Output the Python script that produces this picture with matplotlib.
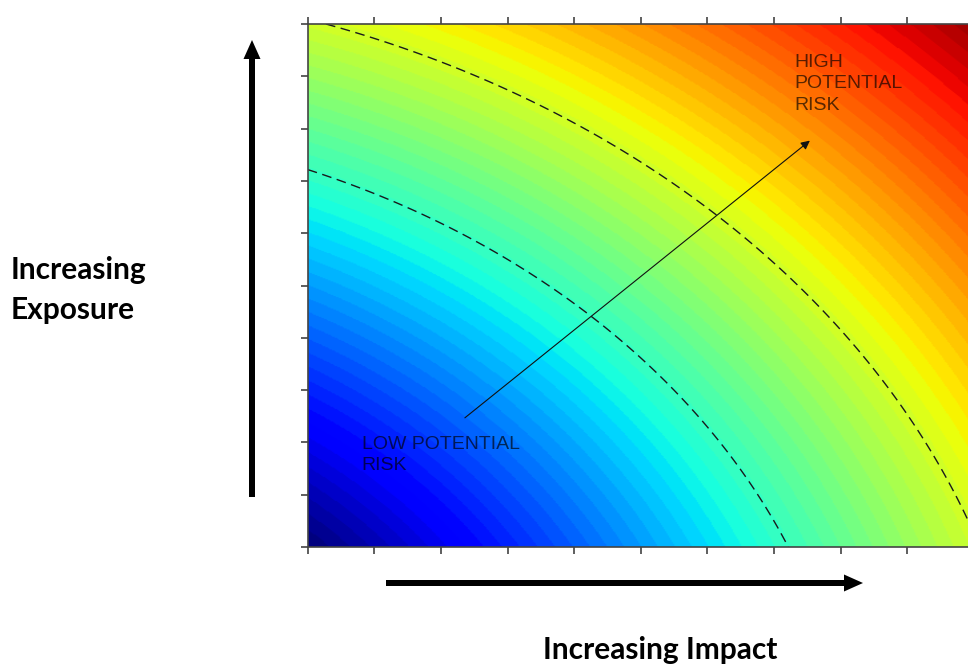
import numpy as np
import matplotlib
matplotlib.use("Agg")
import matplotlib.pyplot as plt
from matplotlib.patches import FancyArrow

plt.rcParams['font.family'] = ['Liberation Sans', 'DejaVu Sans']

# risk field = distance from a point below-left of the plot
centre = (-5.0, -5.0)
value_range = (7.07, 21.7)     # colour limits (jet)
contour_radii = [13.2, 15.9]   # the two dashed bands

x_ticks = list(range(0, 11))
y_ticks = list(range(0, 11))

trend_start = (2.36, 2.47)
trend_end = (7.54, 7.77)

high_label = "HIGH\nPOTENTIAL\nRISK"
low_label = "LOW POTENTIAL\nRISK"
exposure_label = "Increasing\nExposure"
impact_label = "Increasing Impact"


W, H = 968, 664
fig = plt.figure(figsize=(W / 100, H / 100), dpi=100)

# main axes (right edge runs a bit past the figure, like the cropped original)
ax = fig.add_axes([307.7 / W, 117 / H, 666 / W, 523 / H])

gx = np.linspace(0, 10, 500)
gy = np.linspace(0, 10, 500)
X, Y = np.meshgrid(gx, gy)
D = np.hypot(X - centre[0], Y - centre[1])

ax.imshow(D, extent=[0, 10, 0, 10], origin='lower', aspect='auto',
          cmap=plt.get_cmap('jet', 64), vmin=value_range[0], vmax=value_range[1],
          interpolation='bilinear')
ax.contour(X, Y, D, levels=contour_radii, colors='#1a1a1a',
           linewidths=1.0, linestyles=[(0, (7, 4))])

ax.annotate("", xy=trend_end, xytext=trend_start,
            arrowprops=dict(arrowstyle='-|>', lw=0.8, color='#111111',
                            mutation_scale=13, shrinkA=0, shrinkB=0))

ax.text(7.3, 9.43, high_label, fontsize=14, color='k', alpha=0.65,
        ha='left', va='top', linespacing=1.35)
ax.text(0.81, 2.12, low_label, fontsize=14, color='k', alpha=0.65,
        ha='left', va='top', linespacing=1.3)

ax.set_xlim(0, 10)
ax.set_ylim(0, 10)
ax.set_xticks(x_ticks)
ax.set_yticks(y_ticks)
ax.tick_params(direction='out', length=5, width=1.1, color='#333333',
               top=True, labelbottom=False, labelleft=False)
for s in ax.spines.values():
    s.set_color('#444444')
    s.set_linewidth(1.2)

# overlay in pixel units for the big arrows and the outside labels
ov = fig.add_axes([0, 0, 1, 1])
ov.set_xlim(0, W)
ov.set_ylim(H, 0)
ov.axis('off')
ov.patch.set_alpha(0)

ov.add_patch(FancyArrow(252, 497, 0, 40 - 497, width=6, head_width=17,
                        head_length=19, length_includes_head=True,
                        color='k', lw=0))
ov.add_patch(FancyArrow(386, 583, 863 - 386, 0, width=6, head_width=17,
                        head_length=19, length_includes_head=True,
                        color='k', lw=0))

ov.text(11, 319, exposure_label, fontsize=21.5, fontweight='bold',
        family=['Lato', 'DejaVu Sans'], ha='left', va='baseline',
        linespacing=1.5)
ov.text(543, 659, impact_label, fontsize=21.5, fontweight='bold',
        family=['Lato', 'DejaVu Sans'], ha='left', va='baseline')

fig.savefig("out.png", dpi=100)
